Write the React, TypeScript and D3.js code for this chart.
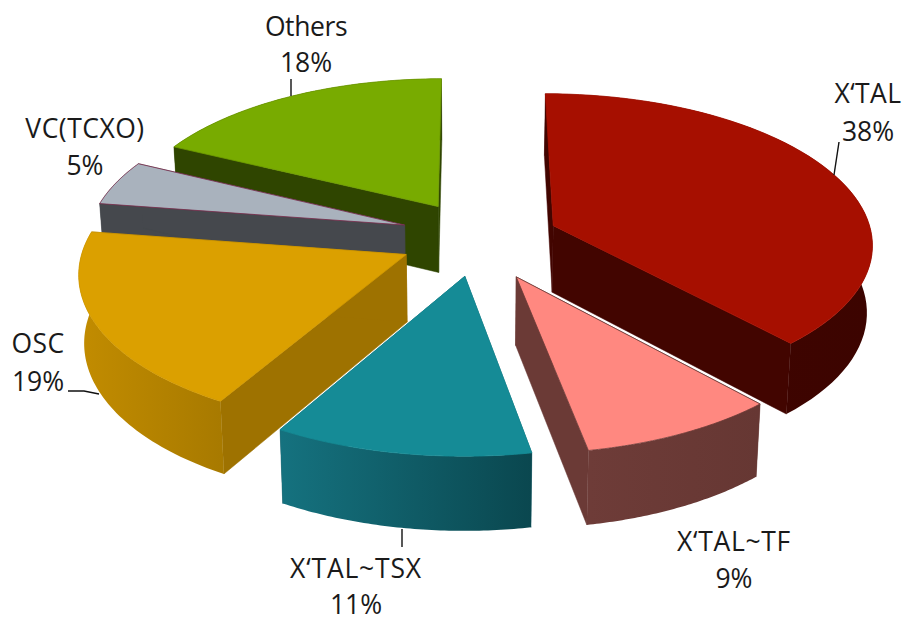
import React from "react";
import * as d3 from "d3";

const categories = ["X‘TAL", "X‘TAL~TF", "X‘TAL~TSX", "OSC", "VC(TCXO)", "Others"];
const shares = [38.3, 8.8, 11.2, 19.1, 4.9, 17.7];
const percentLabels = ["38%", "9%", "11%", "19%", "5%", "18%"];
const explodeX = [82, 43, -7, -65, -68, -34.6];
const explodeY = [26.7, -81, -80, -35, 28, 69];
const radiusScale = [0.985, 0.985, 1, 0.99, 0.98, 0.98];
const topColors = ["#a60f00", "#ff8880", "#158b96", "#dba000", "#a9b2bd", "#78ab00"];
const faceColors = ["#420500", "#6b3a36", "#0e5560", "#9e7200", "#45484d", "#2f4500"];
const wallStart = ["#420500", "#6e3c38", "#15727f", "#c28c00", "#45484d", "#2f4500"];
const wallEnd = ["#3c0400", "#663733", "#0a474f", "#a87a00", "#45484d", "#2f4500"];
const edgeColors = ["#a60f00", "#6b3a36", "#158b96", "#d09800", "#7a2a4a", "#6f9c00"];
const drawOrder = [5, 4, 0, 3, 2, 1];

const labelX = [868, 734, 356, 38, 85, 306];
const nameBase = [103, 551, 578, 353, 138, 36];
const pctBase = [141, 588, 614, 391, 175, 72];
const nameSpacing = [0.4, 0.7, 0.8, 0.4, 0.5, -0.4];
const leaders: number[][][] = [
  [[839, 142], [834, 175]],
  [],
  [[402, 529], [402, 547]],
  [[68, 391], [84, 391], [99, 394]],
  [],
  [[291, 79], [291, 96]],
];

const W = 906, H = 619;
const cx = 472, cy = 238, R = 324, tilt = 0.466, persp = 0.11, depth = 67;

function project(mx: number, my: number, z: number): [number, number] {
  const w = 1 + (persp * my) / R;
  const w2 = w * (1 + 0.014 * z);
  return [cx + mx / w2, cy + (-tilt * my) / w2 + (depth * z) / w];
}

const pie = d3.pie<number>().sort(null).value((d) => d);
const arcs = pie(shares);
const line = d3.line();

export default function App() {
  const slices = arcs.map((a, i) => {
    const ox = explodeX[i];
    const oy = explodeY[i];
    const r = R * radiusScale[i];
    const pt = (t: number, rr: number, z: number) =>
      project(ox + rr * Math.sin(t), oy + rr * Math.cos(t), z);
    const steps = d3.range(0, 61).map((k) => a.startAngle + ((a.endAngle - a.startAngle) * k) / 60);
    const rim = steps.map((t) => pt(t, r, 0));
    const rimLow = steps.map((t) => pt(t, r, 1));
    const apex = pt(0, 0, 0);
    const apexLow = pt(0, 0, 1);
    const top = line([apex, ...rim])! + "Z";
    const wall = line([...rim, ...rimLow.slice().reverse()])! + "Z";
    const faceA = line([apex, rim[0], rimLow[0], apexLow])! + "Z";
    const faceB = line([apex, rim[60], rimLow[60], apexLow])! + "Z";
    const xs = rim.map((p) => p[0]);
    return { i, top, wall, faceA, faceB, x0: d3.min(xs)!, x1: d3.max(xs)! };
  });

  return (
    <svg width={W} height={H} viewBox={`0 0 ${W} ${H}`}
      style={{ position: "absolute", left: 0, top: 0, background: "#fff" }}>
      <defs>
        {slices.map((s) => (
          <linearGradient key={s.i} id={`wall${s.i}`} gradientUnits="userSpaceOnUse"
            x1={s.x0} x2={s.x1} y1={0} y2={0}>
            <stop offset="0" stopColor={wallStart[s.i]} />
            <stop offset="1" stopColor={wallEnd[s.i]} />
          </linearGradient>
        ))}
      </defs>
      {drawOrder.map((i) => {
        const s = slices[i];
        return (
          <g key={i}>
            <path d={s.faceA} fill={faceColors[i]} stroke={faceColors[i]} strokeWidth={0.5} />
            <path d={s.faceB} fill={faceColors[i]} stroke={faceColors[i]} strokeWidth={0.5} />
            <path d={s.wall} fill={`url(#wall${i})`} />
            <path d={s.top} fill={topColors[i]} stroke={edgeColors[i]} strokeWidth={0.8} strokeLinejoin="round" />
          </g>
        );
      })}
      {leaders.map((pts, i) =>
        pts.length ? (
          <path key={i} d={line(pts as [number, number][])!} fill="none" stroke="#111" strokeWidth={1.4} />
        ) : null
      )}
      <g fontFamily="'Open Sans', 'Noto Sans', sans-serif" fontSize={26.5} fill="#1a1a1a" textAnchor="middle">
        {categories.map((c, i) => (
          <g key={c}>
            <text x={labelX[i]} y={nameBase[i]} letterSpacing={nameSpacing[i]}>{c}</text>
            <text x={labelX[i]} y={pctBase[i]}>{percentLabels[i]}</text>
          </g>
        ))}
      </g>
    </svg>
  );
}
